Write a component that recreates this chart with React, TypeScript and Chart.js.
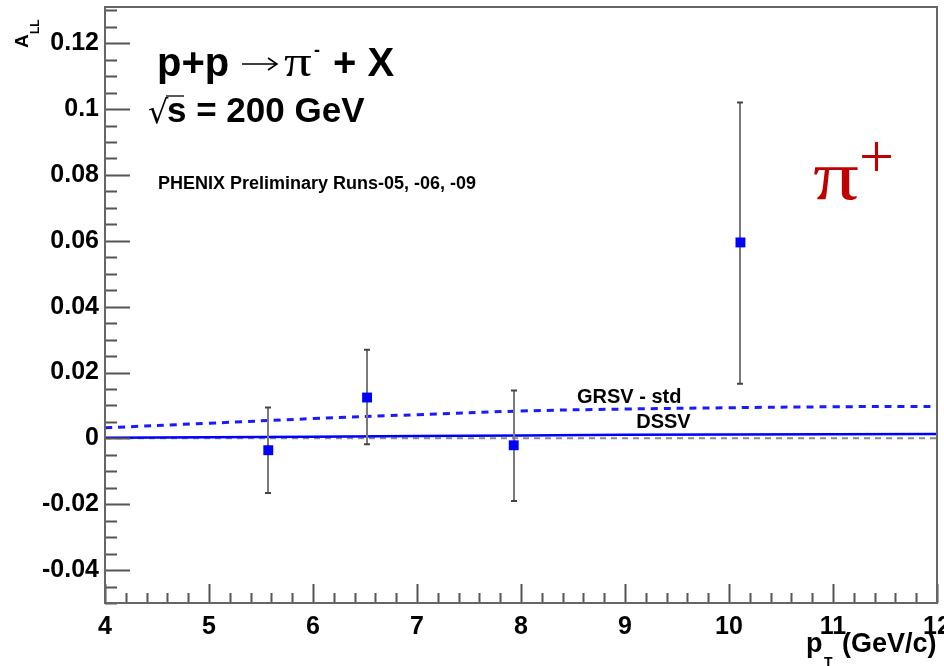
import React, { useEffect, useRef } from 'react';
import { Chart, registerables } from 'chart.js';
Chart.register(...registerables);

// data points (pi+ A_LL vs pT)
const ptValues = [5.57, 6.52, 7.93, 10.11];
const allValues = [-0.0036, 0.0124, -0.0021, 0.0595];
const errLow = [-0.0166, -0.0018, -0.019, 0.0166];
const errHigh = [0.0094, 0.0269, 0.0145, 0.102];

// theory curves
const grsvPt = [4, 5, 6, 7, 8, 9, 10, 11, 12];
const grsvAll = [0.0032, 0.0046, 0.006, 0.0072, 0.0083, 0.0089, 0.0093, 0.0096, 0.0097];
const dssvPt = [4, 6, 8, 10, 12];
const dssvAll = [0.0002, 0.0005, 0.0009, 0.0012, 0.0013];
const zeroPt = [4, 12];
const zeroAll = [0, 0];

// axes
const xTicks = [4, 5, 6, 7, 8, 9, 10, 11, 12];
const xTickLabels = ['4', '5', '6', '7', '8', '9', '10', '11', '12'];
const yTicks = [-0.04, -0.02, 0, 0.02, 0.04, 0.06, 0.08, 0.1, 0.12];
const yTickLabels = ['-0.04', '-0.02', '0', '0.02', '0.04', '0.06', '0.08', '0.1', '0.12'];
const xMin = 4, xMax = 12, yMin = -0.05, yMax = 0.131;

const SANS = '"Liberation Sans", Arial, sans-serif';
const SERIF = '"Liberation Serif", serif';

function scaledText(ctx: CanvasRenderingContext2D, text: string, x: number, y: number, sx: number) {
  ctx.save();
  ctx.translate(x, y);
  ctx.scale(sx, 1);
  ctx.fillText(text, 0, 0);
  ctx.restore();
}

const decor = {
  id: 'decor',
  beforeDatasetDraw(chart: any, args: any) {
    if (args.index !== 0) return;
    const { ctx, scales } = chart;
    const xs = scales.x, ys = scales.y;
    ctx.save();
    for (let i = 0; i < ptValues.length; i++) {
      const px = Math.round(xs.getPixelForValue(ptValues[i]));
      const y1 = ys.getPixelForValue(errLow[i]);
      const y2 = ys.getPixelForValue(errHigh[i]);
      ctx.strokeStyle = '#7a7a7a';
      ctx.lineWidth = 2;
      ctx.beginPath();
      ctx.moveTo(px, y1); ctx.lineTo(px, y2);
      ctx.stroke();
      ctx.strokeStyle = '#444';
      ctx.beginPath();
      ctx.moveTo(px - 3, y1); ctx.lineTo(px + 3, y1);
      ctx.moveTo(px - 3, y2); ctx.lineTo(px + 3, y2);
      ctx.stroke();
    }
    ctx.restore();
  },
  afterDraw(chart: any) {
    const { ctx, chartArea: a, scales } = chart;
    const xs = scales.x, ys = scales.y;
    ctx.save();
    // inner ticks
    ctx.strokeStyle = '#555';
    ctx.lineWidth = 2;
    ctx.beginPath();
    for (let k = 0; k <= 36; k++) {
      const v = yMin + k * 0.005;
      if (v > yMax) break;
      const py = Math.round(ys.getPixelForValue(v)) + 0.5;
      const major = Math.abs(Math.round(v / 0.02) * 0.02 - v) < 1e-6;
      ctx.moveTo(a.left, py); ctx.lineTo(a.left + (major ? 25 : 12), py);
    }
    for (let k = 0; k <= 40; k++) {
      const v = xMin + k * 0.2;
      const px = Math.round(xs.getPixelForValue(v)) + 0.5;
      const major = k % 5 === 0;
      ctx.moveTo(px, a.bottom); ctx.lineTo(px, a.bottom - (major ? 19 : 10));
    }
    ctx.stroke();
    // frame
    ctx.strokeStyle = '#666';
    ctx.lineWidth = 2;
    ctx.strokeRect(a.left, a.top, a.right - a.left, a.bottom - a.top);

    ctx.fillStyle = '#000';
    ctx.textAlign = 'left';
    ctx.textBaseline = 'alphabetic';
    // title line
    ctx.font = `bold 40px ${SANS}`;
    ctx.fillText('p+p', 157, 76);
    ctx.lineWidth = 1.6;
    ctx.strokeStyle = '#000';
    ctx.beginPath();
    ctx.moveTo(242, 64); ctx.lineTo(276, 64);
    ctx.moveTo(268, 58); ctx.lineTo(277, 64); ctx.lineTo(268, 70);
    ctx.stroke();
    ctx.font = `44px ${SERIF}`;
    scaledText(ctx, 'π', 284, 76, 1.25);
    ctx.font = `bold 18px ${SANS}`;
    ctx.fillText('-', 314, 56);
    ctx.font = `bold 40px ${SANS}`;
    ctx.fillText('+ X', 333, 76);
    // sqrt(s)
    ctx.font = `32px "DejaVu Sans", sans-serif`;
    ctx.fillText('√', 148, 123);
    ctx.beginPath();
    ctx.lineWidth = 1.3;
    ctx.moveTo(166, 96); ctx.lineTo(184, 96);
    ctx.stroke();
    ctx.font = `bold 35px ${SANS}`;
    ctx.fillText('s = 200 GeV', 167, 122);
    // preliminary
    ctx.font = `bold 18px ${SANS}`;
    ctx.fillText('PHENIX Preliminary Runs-05, -06, -09', 158, 189);
    // curve labels
    ctx.font = `bold 20px ${SANS}`;
    ctx.textAlign = 'center';
    ctx.fillText('GRSV - std', xs.getPixelForValue(9.04), 403);
    ctx.fillText('DSSV', xs.getPixelForValue(9.37), 428);
    // pi+
    ctx.textAlign = 'left';
    ctx.fillStyle = '#c00000';
    ctx.font = `70px ${SERIF}`;
    scaledText(ctx, 'π', 813, 199, 1.3);
    ctx.font = `62px ${SERIF}`;
    ctx.fillText('+', 859, 177);
    // y axis title
    ctx.fillStyle = '#000';
    ctx.save();
    ctx.translate(28, 48);
    ctx.rotate(-Math.PI / 2);
    ctx.font = `bold 19px ${SANS}`;
    ctx.fillText('A', 0, 0);
    ctx.font = `bold 12px ${SANS}`;
    ctx.fillText('LL', 14, 11);
    ctx.restore();
    // x axis title
    ctx.font = `bold 27px ${SANS}`;
    ctx.fillText('p', 806, 652);
    ctx.font = `bold 14px ${SANS}`;
    ctx.fillText('T', 824, 667);
    ctx.font = `bold 27px ${SANS}`;
    ctx.fillText('(GeV/c)', 842, 652);
    ctx.restore();
  },
};

export default function App() {
  const ref = useRef<HTMLCanvasElement>(null);
  useEffect(() => {
    const canvas = ref.current!;
    const chart = new Chart(canvas, {
      type: 'scatter',
      data: {
        datasets: [
          {
            label: 'PHENIX',
            data: ptValues.map((x, i) => ({ x, y: allValues[i] })),
            pointStyle: 'rect',
            pointRadius: 7,
            pointHoverRadius: 7,
            backgroundColor: '#0000ff',
            borderColor: '#0000ff',
            borderWidth: 0,
            showLine: false,
            order: 0,
          },
          {
            label: 'GRSV - std',
            data: grsvPt.map((x, i) => ({ x, y: grsvAll[i] })),
            showLine: true,
            borderColor: '#1a1aff',
            borderWidth: 3,
            borderDash: [7, 6],
            pointRadius: 0,
            tension: 0.4,
            order: 1,
          },
          {
            label: 'DSSV',
            data: dssvPt.map((x, i) => ({ x, y: dssvAll[i] })),
            showLine: true,
            borderColor: '#0000ff',
            borderWidth: 2.5,
            pointRadius: 0,
            tension: 0.4,
            order: 2,
          },
          {
            label: 'zero',
            data: zeroPt.map((x, i) => ({ x, y: zeroAll[i] })),
            showLine: true,
            borderColor: '#8a8a8a',
            borderWidth: 2,
            borderDash: [6, 5],
            pointRadius: 0,
            order: 3,
          },
        ],
      },
      options: {
        animation: false,
        responsive: false,
        layout: { padding: { top: 6, right: 5, left: 0, bottom: 0 } },
        plugins: { legend: { display: false }, tooltip: { enabled: false } },
        scales: {
          x: {
            type: 'linear',
            min: xMin,
            max: xMax,
            afterBuildTicks: (s: any) => { s.ticks = xTicks.map((v) => ({ value: v })); },
            afterFit: (s: any) => { s.height = 63; s.paddingLeft = 0; s.paddingRight = 0; },
            grid: { display: false, drawTicks: false },
            border: { display: false },
            ticks: {
              padding: 9,
              autoSkip: false,
              maxRotation: 0,
              color: '#000',
              font: { family: SANS, size: 25, weight: 'bold' },
              callback: (_v: any, i: number) => xTickLabels[i],
            },
          },
          y: {
            type: 'linear',
            min: yMin,
            max: yMax,
            afterBuildTicks: (s: any) => { s.ticks = yTicks.map((v) => ({ value: v })); },
            afterFit: (s: any) => { s.width = 105; s.paddingTop = 0; s.paddingBottom = 0; },
            grid: { display: false, drawTicks: false },
            border: { display: false },
            ticks: {
              padding: 6,
              autoSkip: false,
              color: '#000',
              font: { family: SANS, size: 25, weight: 'bold' },
              callback: (_v: any, i: number) => yTickLabels[i],
            },
          },
        },
      },
      plugins: [decor],
    } as any);
    return () => chart.destroy();
  }, []);
  return (
    <div style={{ position: 'absolute', left: 0, top: 0, width: 944, height: 666, background: '#fff' }}>
      <canvas ref={ref} width={944} height={666} style={{ display: 'block' }} />
    </div>
  );
}
